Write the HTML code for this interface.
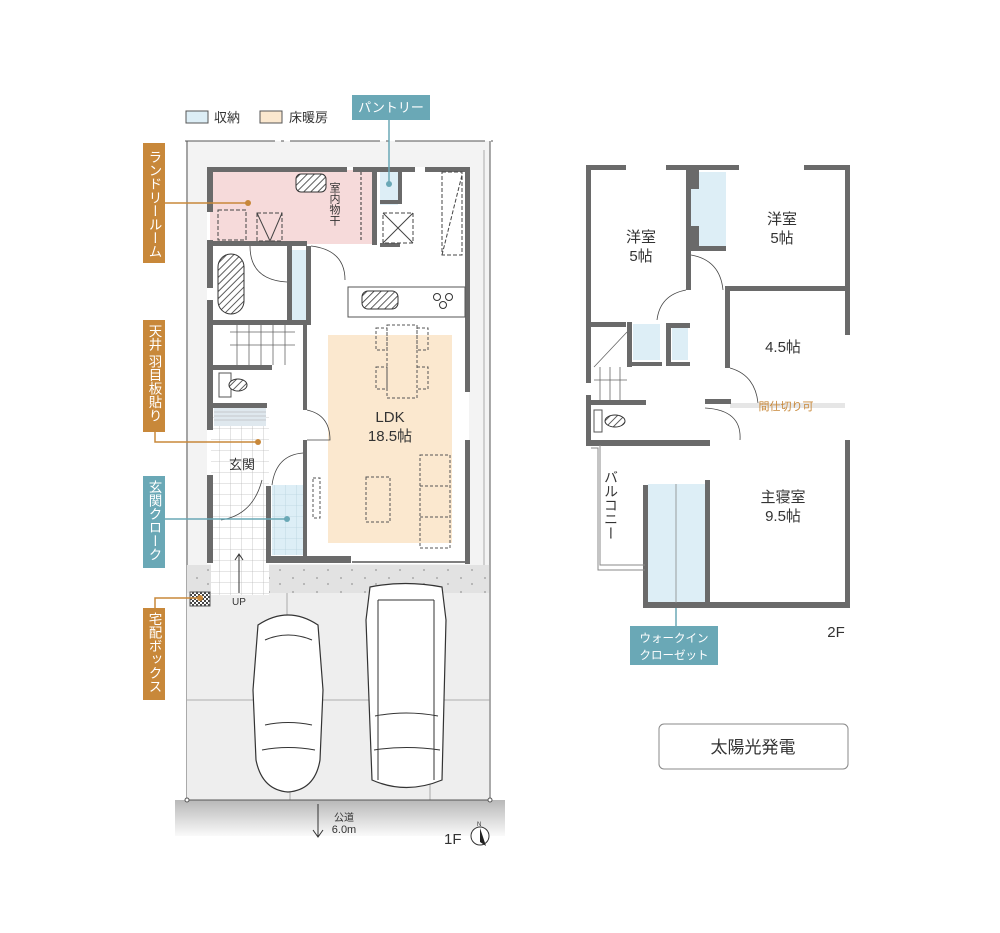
<!DOCTYPE html>
<html><head><meta charset="utf-8"><style>
body{margin:0;background:#fff;}
svg{display:block;font-family:"Liberation Sans","Noto Sans CJK JP",sans-serif;}
</style></head><body>
<svg width="1000" height="933" viewBox="0 0 1000 933" xmlns="http://www.w3.org/2000/svg">
<defs>
<pattern id="hatch" width="5" height="5" patternUnits="userSpaceOnUse" patternTransform="rotate(45)"><rect width="5" height="5" fill="#fff"/><line x1="0" y1="0" x2="0" y2="5" stroke="#333" stroke-width="1.6"/></pattern>
<pattern id="tile" width="11" height="11" patternUnits="userSpaceOnUse"><rect width="11" height="11" fill="#fff"/><path d="M11 0V11M0 11H11" stroke="#bbb" stroke-width="0.8"/></pattern>
<pattern id="tileb" width="11" height="11" patternUnits="userSpaceOnUse"><rect width="11" height="11" fill="#ddeef6"/><path d="M11 0V11M0 11H11" stroke="#b9d3df" stroke-width="0.8"/></pattern>
<pattern id="dots" width="24" height="14" patternUnits="userSpaceOnUse"><rect width="24" height="14" fill="#e2e2e2"/><circle cx="5" cy="4" r="0.9" fill="#999"/><circle cx="16" cy="10" r="0.9" fill="#999"/></pattern>
<pattern id="check" width="4" height="4" patternUnits="userSpaceOnUse"><rect width="4" height="4" fill="#fff"/><rect width="2" height="2" fill="#444"/><rect x="2" y="2" width="2" height="2" fill="#444"/></pattern>
<linearGradient id="road" x1="0" y1="0" x2="0" y2="1"><stop offset="0" stop-color="#b8b8b8"/><stop offset="1" stop-color="#fafafa"/></linearGradient>
</defs>

<!-- legend -->
<rect x="186" y="111" width="22" height="12" fill="#ddeef6" stroke="#555" stroke-width="1"/>
<text x="214" y="122" font-size="13" fill="#333">収納</text>
<rect x="260" y="111" width="22" height="12" fill="#fbe8cf" stroke="#555" stroke-width="1"/>
<text x="289" y="122" font-size="13" fill="#333">床暖房</text>

<!-- lot -->
<rect x="186" y="141" width="304" height="424" fill="#f3f3f3"/>
<line x1="185" y1="141" x2="493" y2="141" stroke="#555" stroke-width="1" stroke-dasharray="90,6,3,6"/>
<line x1="187" y1="141" x2="187" y2="800" stroke="#555" stroke-width="1"/>
<line x1="490" y1="141" x2="490" y2="800" stroke="#555" stroke-width="1"/>
<line x1="484" y1="150" x2="484" y2="800" stroke="#999" stroke-width="0.8"/>
<!-- building interior -->
<rect x="207" y="167" width="262" height="397" fill="#fff"/>
<rect x="210" y="170" width="162" height="74" fill="#f6dada"/>
<rect x="380" y="172" width="18" height="33" fill="#ddeef6"/>
<rect x="292" y="250" width="14" height="70" fill="#ddeef6"/>
<rect x="328" y="335" width="124" height="208" fill="#fbe8cf"/>
<!-- gravel / parking / road -->
<rect x="187" y="565" width="302" height="28" fill="url(#dots)"/>
<rect x="187" y="593" width="302" height="207" fill="#eeeeee"/>
<path d="M287 593V650M187 700H490M430 593V800M290 800V700" stroke="#999" stroke-width="0.8" fill="none"/>
<rect x="175" y="800" width="330" height="36" fill="url(#road)"/>
<line x1="187" y1="800" x2="490" y2="800" stroke="#555" stroke-width="1"/>
<circle cx="187" cy="800" r="2" fill="#fff" stroke="#555"/><circle cx="490" cy="800" r="2" fill="#fff" stroke="#555"/>

<!-- entrance tiles -->
<rect x="211" y="410" width="58" height="185" fill="url(#tile)"/>
<rect x="272" y="485" width="33" height="70" fill="url(#tileb)"/>
<rect x="214" y="408" width="52" height="18" fill="#dfe8ee"/>
<path d="M214 412H266M214 416H266M214 420H266" stroke="#aaa" stroke-width="0.6"/>

<!-- 1F walls -->
<g fill="#6a6a6a">
<rect x="207" y="167" width="140" height="5"/><rect x="353" y="167" width="62" height="5"/><rect x="425" y="167" width="44" height="5"/>
<rect x="207" y="167" width="6" height="45"/><rect x="207" y="240" width="6" height="48"/><rect x="207" y="300" width="6" height="130"/><rect x="207" y="475" width="6" height="88"/>
<rect x="465" y="167" width="5" height="225"/><rect x="465" y="440" width="5" height="124"/>
<rect x="207" y="241" width="100" height="5"/><rect x="287" y="241" width="5" height="82"/><rect x="306" y="246" width="5" height="76"/>
<rect x="207" y="320" width="104" height="5"/>
<rect x="207" y="365" width="65" height="5"/><rect x="207" y="403" width="60" height="5"/>
<rect x="303" y="325" width="4" height="85"/><rect x="303" y="440" width="4" height="123"/>
<rect x="266" y="486" width="5" height="77"/>
<rect x="271" y="556" width="80" height="7"/>
<rect x="372" y="170" width="5" height="75"/><rect x="398" y="170" width="4" height="30"/>
<rect x="380" y="200" width="22" height="4"/><rect x="380" y="243" width="20" height="4"/>
</g>
<line x1="352" y1="562" x2="465" y2="562" stroke="#555" stroke-width="1.5"/>
<!-- fixtures 1F -->
<rect x="296" y="174" width="30" height="18" rx="5" fill="url(#hatch)" stroke="#333"/>
<rect x="218" y="254" width="26" height="60" rx="13" fill="url(#hatch)" stroke="#333"/>
<rect x="348" y="287" width="117" height="30" fill="#fff" stroke="#555"/>
<rect x="362" y="291" width="36" height="18" rx="6" fill="url(#hatch)" stroke="#333"/>
<circle cx="437" cy="297" r="3.5" fill="none" stroke="#333"/><circle cx="449" cy="297" r="3.5" fill="none" stroke="#333"/><circle cx="443" cy="305" r="3.5" fill="none" stroke="#333"/>
<rect x="218" y="210" width="28" height="30" fill="none" stroke="#444" stroke-dasharray="4,2"/>
<rect x="257" y="213" width="25" height="28" fill="none" stroke="#444" stroke-dasharray="4,2"/>
<path d="M257 213L270 241L282 213" fill="none" stroke="#444"/>
<rect x="383" y="213" width="30" height="30" fill="none" stroke="#444" stroke-dasharray="4,2"/>
<path d="M383 213L413 243M413 213L383 243" stroke="#444"/>
<path d="M442 172H462V255H442Z M442 255L462 175" fill="none" stroke="#444" stroke-dasharray="4,2"/>
<line x1="361" y1="172" x2="361" y2="240" stroke="#333" stroke-dasharray="3,2"/>
<text x="334" y="182" font-size="11" fill="#333" writing-mode="tb">室内物干</text>
<path d="M230 332H295M230 345H295M237 325V365M249 325V365M261 325V365M273 325V365M285 325V365" stroke="#666" stroke-width="0.8"/>
<rect x="219" y="373" width="12" height="24" fill="#fff" stroke="#555"/>
<ellipse cx="238" cy="385" rx="9" ry="6" fill="url(#hatch)" stroke="#333"/>
<path d="M311 246Q345 250 345 280" fill="none" stroke="#444" stroke-width="0.8"/>
<path d="M250 246Q250 280 287 282" fill="none" stroke="#444" stroke-width="0.8"/>
<path d="M307 410Q330 415 330 440L307 440" fill="none" stroke="#444" stroke-width="0.8"/>
<path d="M303 453Q276 455 272 485" fill="none" stroke="#444" stroke-width="0.8"/>
<path d="M221 520Q253 515 262 480" fill="none" stroke="#444" stroke-width="0.8"/>
<!-- dining dashed furniture -->
<g fill="none" stroke="#555" stroke-dasharray="3,2">
<rect x="387" y="325" width="30" height="73"/><rect x="376" y="328" width="11" height="22"/><rect x="417" y="328" width="11" height="22"/><rect x="376" y="367" width="11" height="22"/><rect x="417" y="367" width="11" height="22"/>
<rect x="366" y="477" width="24" height="45"/><rect x="420" y="455" width="30" height="93"/><path d="M420 486H450M420 517H450"/>
<rect x="313" y="478" width="7" height="40"/>
</g>
<text x="390" y="422" font-size="15" fill="#333" text-anchor="middle">LDK</text>
<text x="390" y="441" font-size="15" fill="#333" text-anchor="middle">18.5帖</text>
<text x="242" y="469" font-size="13" fill="#333" text-anchor="middle">玄関</text>
<line x1="239" y1="593" x2="239" y2="555" stroke="#333"/><path d="M235 560L239 554L243 560" fill="none" stroke="#333"/>
<text x="239" y="605" font-size="10" fill="#333" text-anchor="middle">UP</text>
<rect x="190" y="592" width="20" height="14" fill="url(#check)" stroke="#555"/>
<!-- cars -->
<g fill="#fff" stroke="#333" stroke-width="1.2">
<path d="M258 625Q288 605 318 625L323 690L320 760Q315 790 288 792Q262 790 256 760L253 690Z"/>
<path d="M370 587Q405 580 442 587L446 620L442 780Q406 795 372 780L366 620Z"/>
</g>
<g fill="none" stroke="#333" stroke-width="1">
<path d="M265 640Q288 630 312 640M265 725Q288 720 312 725M262 750Q288 745 315 750"/>
<path d="M378 600H434M375 716Q406 710 438 716M374 750Q406 745 440 750M378 600V780M434 600V780"/>
</g>
<!-- road label -->
<line x1="318" y1="804" x2="318" y2="837" stroke="#333"/><path d="M313 830L318 837L323 830" fill="none" stroke="#333"/>
<text x="344" y="821" font-size="10" fill="#333" text-anchor="middle">公道</text>
<text x="344" y="833" font-size="11" fill="#333" text-anchor="middle">6.0m</text>
<text x="444" y="844" font-size="15" fill="#333">1F</text>
<circle cx="480" cy="836" r="9" fill="#fff" stroke="#333"/><path d="M480 828L486 846L480 842Z" fill="#222"/>
<text x="477" y="826" font-size="6" fill="#333">N</text>

<!-- 1F callouts -->
<g font-size="13" fill="#fff">
<rect x="143" y="143" width="22" height="120" fill="#c8883a"/><text x="154" y="150" writing-mode="tb" font-size="13.5">ランドリールーム</text>
<rect x="143" y="320" width="22" height="112" fill="#c8883a"/><text x="154" y="324" writing-mode="tb" font-size="13.5">天井 羽目板貼り</text>
<rect x="143" y="476" width="22" height="92" fill="#6aa8b6"/><text x="154" y="480" writing-mode="tb" font-size="13.5">玄関クローク</text>
<rect x="143" y="608" width="22" height="92" fill="#c8883a"/><text x="154" y="612" writing-mode="tb" font-size="13.5">宅配ボックス</text>
<rect x="352" y="95" width="78" height="25" fill="#6aa8b6"/><text x="391" y="112" text-anchor="middle">パントリー</text>
</g>
<g fill="none" stroke-width="1.5">
<path d="M165 203H248" stroke="#c8883a"/><path d="M155 432V442H258" stroke="#c8883a"/>
<path d="M165 519H287" stroke="#6aa8b6"/><path d="M155 608V598H200" stroke="#c8883a"/>
<path d="M389 120V184" stroke="#6aa8b6"/><path d="M676 626V552" stroke="#6aa8b6"/>
</g>
<circle cx="248" cy="203" r="3" fill="#c8883a"/><circle cx="258" cy="442" r="3" fill="#c8883a"/><circle cx="287" cy="519" r="3" fill="#6aa8b6"/><circle cx="200" cy="598" r="3" fill="#c8883a"/><circle cx="389" cy="184" r="3" fill="#6aa8b6"/><circle cx="676" cy="552" r="3" fill="#6aa8b6"/>

<!-- 2F -->
<rect x="690" y="172" width="36" height="74" fill="#ddeef6"/>
<rect x="633" y="324" width="27" height="36" fill="#ddeef6"/><rect x="672" y="327" width="16" height="33" fill="#ddeef6"/>
<rect x="648" y="484" width="58" height="119" fill="#ddeef6"/>
<rect x="730" y="403" width="115" height="5" fill="#e6e6e6"/>
<g fill="#6a6a6a">
<rect x="586" y="165" width="40" height="5"/><rect x="666" y="165" width="73" height="5"/><rect x="804" y="165" width="46" height="5"/>
<rect x="586" y="165" width="5" height="218"/><rect x="586" y="395" width="5" height="50"/>
<rect x="845" y="165" width="5" height="170"/><rect x="845" y="440" width="5" height="167"/>
<rect x="686" y="165" width="5" height="125"/><rect x="691" y="165" width="8" height="24"/><rect x="691" y="226" width="8" height="22"/><rect x="686" y="246" width="40" height="5"/>
<rect x="725" y="286" width="125" height="5"/><rect x="725" y="286" width="5" height="82"/>
<rect x="586" y="322" width="40" height="5"/><rect x="627" y="322" width="5" height="45"/><rect x="627" y="362" width="35" height="4"/>
<rect x="666" y="323" width="24" height="5"/><rect x="666" y="323" width="5" height="43"/><rect x="666" y="362" width="24" height="4"/>
<rect x="586" y="400" width="60" height="5"/><rect x="705" y="399" width="26" height="5"/>
<rect x="586" y="440" width="124" height="6"/>
<rect x="643" y="485" width="5" height="122"/><rect x="705" y="480" width="5" height="127"/><rect x="643" y="602" width="207" height="6"/>
</g>
<path d="M591 448H598V570H645M600 445V565H645" fill="none" stroke="#888" stroke-width="1"/>
<path d="M594 367L627 332M594 380H627M600 367V400M610 367V400M620 367V400" stroke="#666" stroke-width="0.8" fill="none"/>
<rect x="594" y="410" width="8" height="22" fill="#fff" stroke="#555"/><ellipse cx="615" cy="421" rx="10" ry="6" fill="url(#hatch)" stroke="#333"/>
<path d="M691 255Q720 260 723 290M657 320Q660 295 686 290M730 368Q755 375 758 403M705 408Q742 410 740 440" fill="none" stroke="#444" stroke-width="0.8"/>
<line x1="676" y1="484" x2="676" y2="603" stroke="#888" stroke-width="0.8"/>
<g font-size="15" fill="#333" text-anchor="middle">
<text x="641" y="242">洋室</text><text x="641" y="261">5帖</text>
<text x="782" y="224">洋室</text><text x="782" y="243">5帖</text>
<text x="783" y="352">4.5帖</text>
<text x="783" y="502">主寝室</text><text x="783" y="521">9.5帖</text>
<text x="836" y="637">2F</text>
</g>
<text x="786" y="410" font-size="11" fill="#c8883a" text-anchor="middle">間仕切り可</text>
<text x="611" y="470" font-size="14" fill="#333" writing-mode="tb">バルコニー</text>
<rect x="630" y="626" width="88" height="39" fill="#6aa8b6"/>
<text x="674" y="642" font-size="11.5" fill="#fff" text-anchor="middle">ウォークイン</text>
<text x="674" y="659" font-size="11.5" fill="#fff" text-anchor="middle">クローゼット</text>
<rect x="659" y="724" width="189" height="45" rx="5" fill="#fff" stroke="#888"/>
<text x="753" y="753" font-size="17" fill="#333" text-anchor="middle">太陽光発電</text>
</svg>
</body></html>
